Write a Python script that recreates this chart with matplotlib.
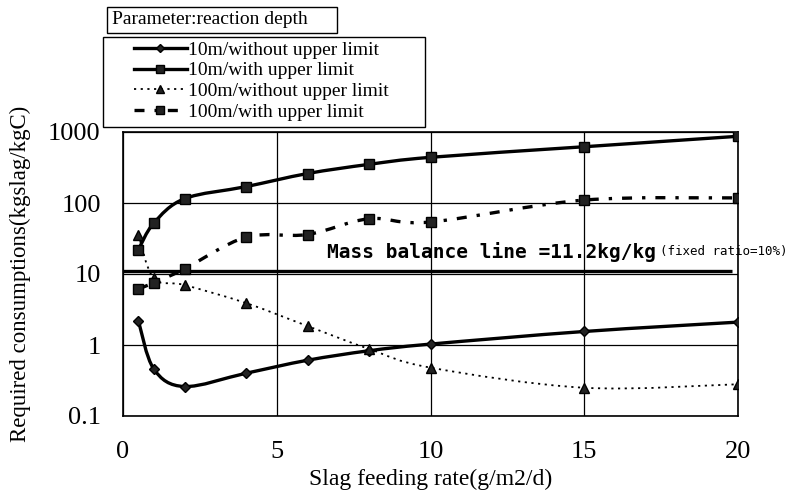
import numpy as np
import matplotlib
matplotlib.use('Agg')
import matplotlib.pyplot as plt
from matplotlib.path import Path
from matplotlib.patches import PathPatch, Rectangle
from matplotlib.lines import Line2D

plt.rcParams['font.family'] = ['Liberation Serif', 'DejaVu Serif']

# data
feed_rate = [0.5, 1, 2, 4, 6, 8, 10, 15, 20]
d10_without = [2.2, 0.46, 0.26, 0.40, 0.61, 0.83, 1.03, 1.55, 2.1]
d10_with = [22, 52, 115, 170, 260, 350, 440, 620, 870]
d100_without = [36, 8.7, 7.0, 3.9, 1.85, 0.88, 0.48, 0.25, 0.28]
d100_with = [6.2, 7.5, 11.8, 33, 36, 60, 54, 110, 118]
mass_balance = 11.2

series_labels = ['10m/without upper limit', '10m/with upper limit',
                 '100m/without upper limit', '100m/with upper limit']
legend_title = 'Parameter:reaction depth'
xticks = [0, 5, 10, 15, 20]
yticks = [0.1, 1, 10, 100, 1000]
ytick_labels = ['0.1', '1', '10', '100', '1000']


def smooth_path(x, y):
    # Catmull-Rom style bezier through the points, in (x, log10 y) space
    x = np.asarray(x, float)
    ly = np.log10(np.asarray(y, float))
    n = len(x)
    verts = [(x[0], 10 ** ly[0])]
    codes = [Path.MOVETO]
    for i in range(n - 1):
        i0 = max(i - 1, 0)
        i3 = min(i + 2, n - 1)
        c1 = (x[i] + (x[i + 1] - x[i0]) / 6, ly[i] + (ly[i + 1] - ly[i0]) / 6)
        c2 = (x[i + 1] - (x[i3] - x[i]) / 6, ly[i + 1] - (ly[i3] - ly[i]) / 6)
        verts += [(c1[0], 10 ** c1[1]), (c2[0], 10 ** c2[1]),
                  (x[i + 1], 10 ** ly[i + 1])]
        codes += [Path.CURVE4] * 3
    return Path(verts, codes)


W, H = 797, 499
fig = plt.figure(figsize=(W / 100, H / 100), dpi=100)
ax = fig.add_axes([123 / W, 1 - 416 / H, 615 / W, 284 / H])
ax.set_yscale('log')
ax.set_xlim(0, 20)
ax.set_ylim(0.1, 1000)

styles = [
    dict(data=d10_without, marker='D', ms=5.5, ls='-', lw=2.4),
    dict(data=d10_with, marker='s', ms=6.5, ls='-', lw=2.4),
    dict(data=d100_without, marker='^', ms=6.5, ls=(0, (1.2, 2.5)), lw=1.3),
    dict(data=d100_with, marker='s', ms=6.5, ls=(0, (3, 3, 1, 3)), lw=2.4),
]

handles = []
for st in styles:
    patch = PathPatch(smooth_path(feed_rate, st['data']), fill=False,
                      edgecolor='black', lw=st['lw'], linestyle=st['ls'],
                      zorder=3)
    ax.add_patch(patch)
    ax.plot(feed_rate, st['data'], ls='none', marker=st['marker'],
            ms=st['ms'], color='black', mfc='#222222', mec='black', zorder=4)
    handles.append(Line2D([], [], color='black', lw=st['lw'], ls=st['ls'],
                          marker=st['marker'], ms=st['ms'] - 1, mfc='#222222'))

# mass balance line
ax.plot([0, 19.8], [mass_balance, mass_balance], color='black', lw=2.4,
        solid_capstyle='butt', zorder=3)
ax.text(6.63, 20.5, 'Mass balance line =11.2kg/kg', family='DejaVu Sans Mono',
        fontsize=14, fontweight='bold', va='center', ha='left', zorder=5)
ax.text(17.45, 20.5, '(fixed ratio=10%)', family='DejaVu Sans Mono',
        fontsize=9, va='center', ha='left', zorder=5)

ax.set_xticks(xticks)
ax.set_xticklabels([str(t) for t in xticks])
ax.set_yticks(yticks)
ax.set_yticklabels(ytick_labels)
ax.yaxis.set_minor_locator(matplotlib.ticker.NullLocator())
ax.tick_params(length=0, labelsize=19)
ax.tick_params(axis='x', pad=18)
ax.tick_params(axis='y', pad=16)
ax.grid(True, color='black', lw=0.9)
for sp in ax.spines.values():
    sp.set_linewidth(1.2)

ax.set_xlabel('Slag feeding rate(g/m2/d)', fontsize=17, labelpad=4)
ax.set_ylabel('Required consumptions(kgslag/kgC)', fontsize=16.5, labelpad=12)

# legend title box
fig.text(112 / W, 1 - 20 / H, legend_title, fontsize=14, va='center',
         ha='left')
fig.patches.append(Rectangle((107 / W, 1 - 33 / H), 230 / W, 26 / H,
                             transform=fig.transFigure, fill=False,
                             ec='black', lw=1))
# legend box
fig.patches.append(Rectangle((103 / W, 1 - 127 / H), 322 / W, 90 / H,
                             transform=fig.transFigure, fc='white',
                             ec='black', lw=1, zorder=5))
leg = fig.legend(handles, series_labels, loc='upper left',
                 bbox_to_anchor=(134 / W, 1 - 41 / H), frameon=False,
                 borderaxespad=0, handlelength=2.7, labelspacing=0.16,
                 borderpad=0, handletextpad=0.1, fontsize=14)
leg.set_zorder(10)

fig.savefig('out.png', dpi=100)
